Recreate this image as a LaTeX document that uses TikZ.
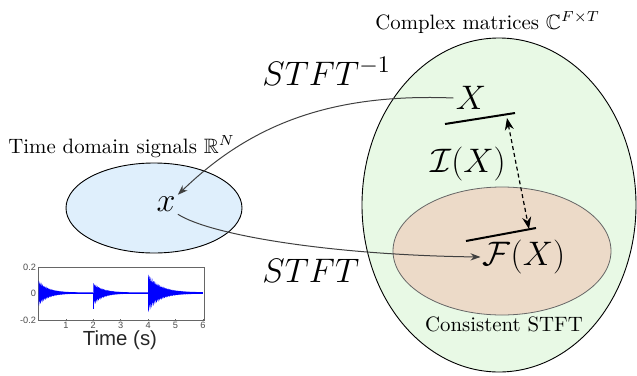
\RequirePackage{fix-cm}
\documentclass[tikz,border=0pt]{standalone}
\usepackage{amssymb}
\usepackage{fontspec}
\newfontfamily\plotfont{Liberation Sans}
\usetikzlibrary{arrows.meta}
\definecolor{blueset}{HTML}{DFEFFC}
\definecolor{greenset}{HTML}{E8F9E5}
\definecolor{brownset}{HTML}{ECDAC8}
\definecolor{wave}{RGB}{0,0,255}
\tikzset{
  setlabel/.style={font=\fontsize{10.4}{12}\selectfont, inner sep=0pt},
  bigmath/.style={font=\fontsize{17}{20}\selectfont, inner sep=1pt},
  maparrow/.style={draw=black!75, line width=0.5pt, -{Stealth[length=5pt,width=3.6pt]}},
  bar/.style={line width=1pt},
  ticklab/.style={font=\plotfont\fontsize{4.6}{5}\selectfont, text=black!70, inner sep=0.3pt},
}
\begin{document}
\begin{tikzpicture}[x=0.5pt,y=-0.5pt]
\useasboundingbox (0,0) rectangle (637,375);
% sets
\filldraw[fill=greenset, draw=black, line width=0.45pt] (499,205) ellipse [x radius=137, y radius=167];
\filldraw[fill=brownset, draw=black!60, line width=0.4pt] (502,251) ellipse [x radius=109, y radius=64];
\filldraw[fill=blueset, draw=black, line width=0.45pt] (154,208) ellipse [x radius=88, y radius=45];
% set labels
\node[setlabel, anchor=base west] (cm) at (375,29) {Complex matrices $\mathbb{C}^{F\times T}$};
\node[setlabel, anchor=base west] (td) at (8,153) {Time domain signals $\mathbb{R}^N$};
\node[setlabel, anchor=base] (cs) at (504,331) {Consistent STFT};
% math nodes
\node[bigmath] (X) at (471,98) {$X$};
\node[bigmath] (x) at (166,204.5) {$x$};
\node[bigmath] (F) at (524,257) {$\mathcal{F}(X)$};
\node[bigmath] (I) at (468,164) {$\mathcal{I}(X)$};
\node[bigmath, anchor=base west, inner sep=0pt] (istft) at (262,85) {$STFT^{-1}$};
\node[bigmath, anchor=base west, inner sep=0pt] (stft) at (262,282) {$STFT$};
% bars
\coordinate (b1a) at (445,124);
\coordinate (b1b) at (515,113);
\coordinate (b2a) at (466,241);
\coordinate (b2b) at (536,228);
\draw[bar] (b1a) -- (b1b);
\draw[bar] (b2a) -- (b2b);
\coordinate (d1) at (507,118);
\coordinate (d2) at (529,229);
\draw[line width=0.6pt, dash pattern=on 2pt off 1.5pt, {Stealth[length=6pt,width=4.5pt]}-{Stealth[length=6pt,width=4.5pt]}] (d1) -- (d2);
% maps
\draw[maparrow] (X.west) .. controls (330,93) and (250,125) .. (x.north east);
\draw[maparrow] (x.south east) .. controls (210,235) and (330,255) .. (F.west);
% waveform plot
\draw[black!60, line width=0.35pt] (38.5,267) rectangle (204,320);
\foreach \t in {1,...,6} {
  \draw[black!60, line width=0.3pt] ({38.5+27.4*\t},320) -- ({38.5+27.4*\t},318.5);
}
\draw[black!60, line width=0.3pt] (38.5,293) -- (40,293);
\node[ticklab, anchor=east] (t02) at (37,267) {0.2};
\node[ticklab, anchor=east] (t0) at (37,293) {0};
\node[ticklab, anchor=east] (tm02) at (37,320) {-0.2};
\foreach \t in {1,...,6} {
  \node[ticklab, anchor=north] (xt\t) at ({38.5+27.4*\t},321) {\t};
}
\node[font=\plotfont\fontsize{10.2}{12}\selectfont, text=black!85, inner sep=0pt] (tl) at (120,340.5) {Time (s)};
\begin{scope}[shift={(38.5,293)}, xscale=27.4, yscale=-130]
  \draw[wave, line width=0.5pt] (0,0) -- (6,0);
  % burst 1
  \fill[wave] plot[domain=0:1.99, samples=120, smooth] (\x, {0.1*exp(-2.8*\x)*(0.8+0.2*sin(7919*\x))+0.004})
    -- plot[domain=1.99:0, samples=120, smooth] (\x, {-0.1*exp(-2.8*\x)*(0.8+0.2*sin(6133*\x))-0.004}) -- cycle;
  % burst 2
  \fill[wave] plot[domain=0:1.99, samples=120, smooth] ({2+\x}, {0.08*exp(-2.8*\x)*(0.8+0.2*sin(7919*\x))+0.004})
    -- plot[domain=1.99:0, samples=120, smooth] ({2+\x}, {-0.1*exp(-3*\x)*(0.8+0.2*sin(6133*\x))-0.004}) -- cycle;
  \draw[wave, line width=0.4pt] (2.02,0) -- (2.02,-0.125);
  % burst 3
  \fill[wave] plot[domain=0:2, samples=120, smooth] ({4+\x}, {0.15*exp(-2.2*\x)*(0.8+0.2*sin(7919*\x))+0.005})
    -- plot[domain=2:0, samples=120, smooth] ({4+\x}, {-0.15*exp(-2.4*\x)*(0.8+0.2*sin(6133*\x))-0.005}) -- cycle;
\end{scope}
\end{tikzpicture}
\end{document}
